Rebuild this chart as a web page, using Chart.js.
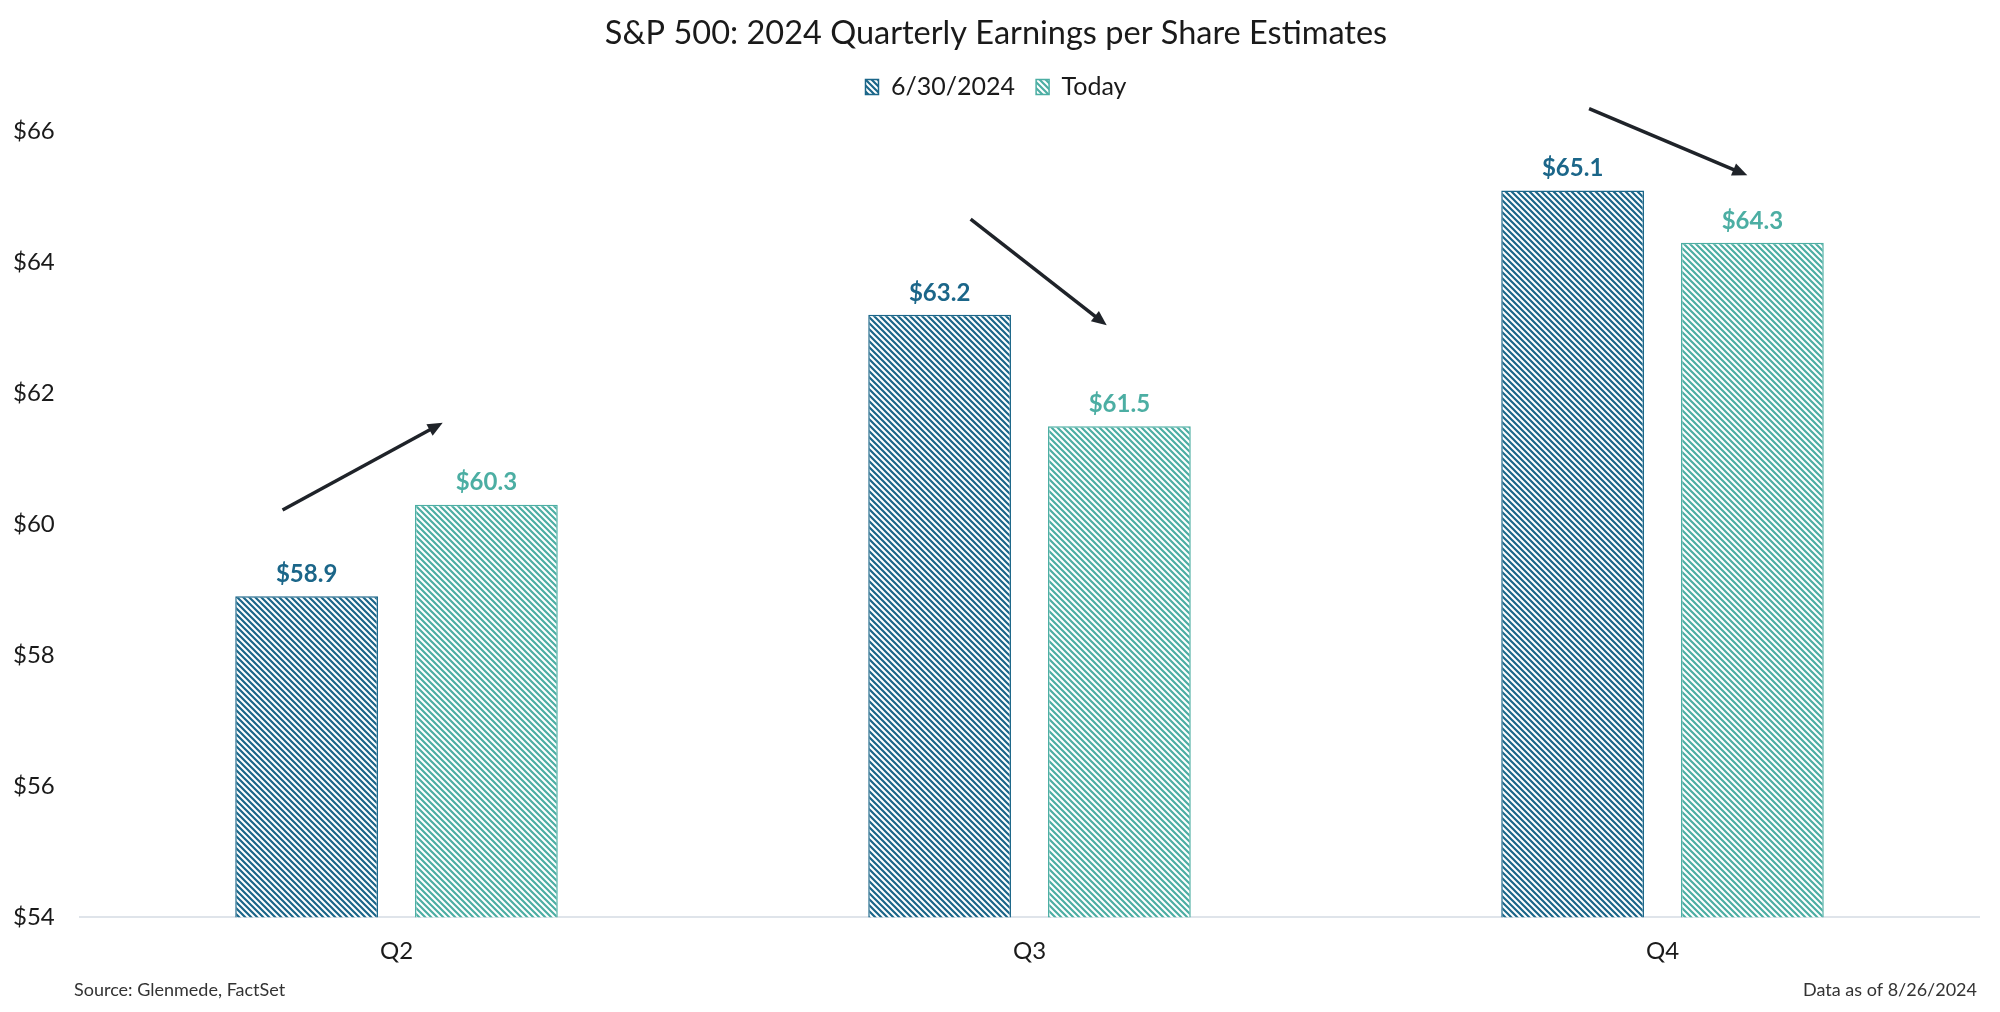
<!DOCTYPE html>
<html>
<head>
<meta charset="utf-8">
<script src="https://cdn.jsdelivr.net/npm/chart.js@4.4.1/dist/chart.umd.min.js"></script>
<style>
  html, body { margin: 0; padding: 0; background: #ffffff; }
  #c { display: block; }
</style>
</head>
<body>
<canvas id="c" width="2000" height="1012"></canvas>
<script>
// ---- Data ----
const categories = ['Q2', 'Q3', 'Q4'];
const seriesNames = ['6/30/2024', 'Today'];
const estimatesJune = [58.9, 63.2, 65.1];
const estimatesToday = [60.3, 61.5, 64.3];
const yTicks = [54, 56, 58, 60, 62, 64, 66];
const titleText = 'S&P 500: 2024 Quarterly Earnings per Share Estimates';
const sourceText = 'Source: Glenmede, FactSet';
const asOfText = 'Data as of 8/26/2024';
// Trend arrows: category index, start/end offset (fraction of category width), start/end value
const arrowCats = [0, 1, 2];
const arrowStartOffset = [-0.180, -0.093, -0.116];
const arrowEndOffset = [0.073, 0.122, 0.134];
const arrowStartValue = [60.22, 64.66, 66.35];
const arrowEndValue = [61.55, 63.04, 65.33];

// ---- Styles ----
const DARK = '#1b6689';
const TEAL = '#4caea3';
const FONT = 'Lato, "Noto Sans", sans-serif';

function makeHatch(color) {
  const s = 6;
  const c = document.createElement('canvas');
  c.width = s; c.height = s;
  const g = c.getContext('2d');
  g.fillStyle = '#ffffff';
  g.fillRect(0, 0, s, s);
  g.strokeStyle = color;
  g.lineWidth = 2.2;
  g.lineCap = 'square';
  g.beginPath();
  g.moveTo(-2, -2); g.lineTo(s + 2, s + 2);
  g.moveTo(-2, s - 2); g.lineTo(2, s + 2);
  g.moveTo(s - 2, -2); g.lineTo(s + 2, 2);
  g.stroke();
  return g.createPattern(c, 'repeat');
}

const ctx = document.getElementById('c').getContext('2d');

const legendGap = {
  id: 'legendGap',
  afterInit(chart) {
    const lg = chart.legend;
    if (!lg) return;
    const orig = lg.fit;
    lg.fit = function () {
      orig.call(this);
      this.height += 22;
    };
  }
};

const valueLabels = {
  id: 'valueLabels',
  afterDatasetsDraw(chart) {
    const c = chart.ctx;
    c.save();
    c.font = 'bold 24px ' + FONT;
    c.textAlign = 'center';
    c.textBaseline = 'middle';
    chart.data.datasets.forEach((ds, di) => {
      const meta = chart.getDatasetMeta(di);
      c.fillStyle = ds.borderColor;
      meta.data.forEach((bar, i) => {
        c.fillText('$' + ds.data[i].toFixed(1), bar.x, bar.y - 22);
      });
    });
    c.restore();
  }
};

const trendArrows = {
  id: 'trendArrows',
  afterDatasetsDraw(chart) {
    const c = chart.ctx;
    const xs = chart.scales.x, ys = chart.scales.y;
    const catW = (xs.right - xs.left) / categories.length;
    c.save();
    c.strokeStyle = '#1f2329';
    c.fillStyle = '#1f2329';
    c.lineWidth = 3.5;
    arrowCats.forEach((ci, k) => {
      const cx = xs.getPixelForValue(ci);
      const x0 = cx + arrowStartOffset[k] * catW;
      const x1 = cx + arrowEndOffset[k] * catW;
      const y0 = ys.getPixelForValue(arrowStartValue[k]);
      const y1 = ys.getPixelForValue(arrowEndValue[k]);
      const ang = Math.atan2(y1 - y0, x1 - x0);
      const headLen = 15, headW = 6.5;
      const bx = x1 - Math.cos(ang) * headLen;
      const by = y1 - Math.sin(ang) * headLen;
      c.beginPath();
      c.moveTo(x0, y0);
      c.lineTo(bx + Math.cos(ang) * 2, by + Math.sin(ang) * 2);
      c.stroke();
      c.beginPath();
      c.moveTo(x1, y1);
      c.lineTo(bx + Math.sin(ang) * headW, by - Math.cos(ang) * headW);
      c.lineTo(bx - Math.sin(ang) * headW, by + Math.cos(ang) * headW);
      c.closePath();
      c.fill();
    });
    c.restore();
  }
};

const footerText = {
  id: 'footerText',
  afterDraw(chart) {
    const c = chart.ctx;
    c.save();
    c.font = '18px ' + FONT;
    c.fillStyle = '#333333';
    c.textBaseline = 'middle';
    c.textAlign = 'left';
    c.fillText(sourceText, 74, 990);
    c.textAlign = 'right';
    c.fillText(asOfText, 1977, 990);
    c.restore();
  }
};

new Chart(ctx, {
  type: 'bar',
  data: {
    labels: categories,
    datasets: [
      {
        label: seriesNames[0],
        data: estimatesJune,
        backgroundColor: makeHatch(DARK),
        borderColor: DARK,
        borderWidth: 1.5,
        borderSkipped: 'start',
        categoryPercentage: 0.568,
        barPercentage: 0.794
      },
      {
        label: seriesNames[1],
        data: estimatesToday,
        backgroundColor: makeHatch(TEAL),
        borderColor: TEAL,
        borderWidth: 1.5,
        borderSkipped: 'start',
        categoryPercentage: 0.568,
        barPercentage: 0.794
      }
    ]
  },
  options: {
    responsive: false,
    animation: false,
    devicePixelRatio: 1,
    layout: { padding: { left: 13, right: 21, top: 0, bottom: 26 } },
    plugins: {
      title: {
        display: true,
        text: titleText,
        color: '#1a1a1a',
        font: { family: FONT, size: 32.5, weight: 'normal' },
        padding: { top: 14.5, bottom: 0 }
      },
      legend: {
        display: true,
        position: 'top',
        labels: {
          color: '#1a1a1a',
          font: { family: FONT, size: 25 },
          boxWidth: 13,
          boxHeight: 15,
          padding: 21
        }
      },
      tooltip: { enabled: false }
    },
    scales: {
      x: {
        grid: { display: false, drawTicks: false },
        border: { display: true, color: '#dfe4ea', width: 2 },
        ticks: { color: '#1a1a1a', font: { family: FONT, size: 24 }, padding: 20 }
      },
      y: {
        min: yTicks[0],
        max: yTicks[yTicks.length - 1],
        afterBuildTicks(scale) { scale.ticks = yTicks.map(v => ({ value: v })); },
        afterFit(scale) { scale.width = 67; },
        grid: { display: false, drawTicks: false },
        border: { display: false },
        ticks: {
          color: '#1a1a1a',
          font: { family: FONT, size: 24 },
          crossAlign: 'far',
          padding: 10,
          callback: v => '$' + v
        }
      }
    }
  },
  plugins: [legendGap, valueLabels, trendArrows, footerText]
});
</script>
</body>
</html>
